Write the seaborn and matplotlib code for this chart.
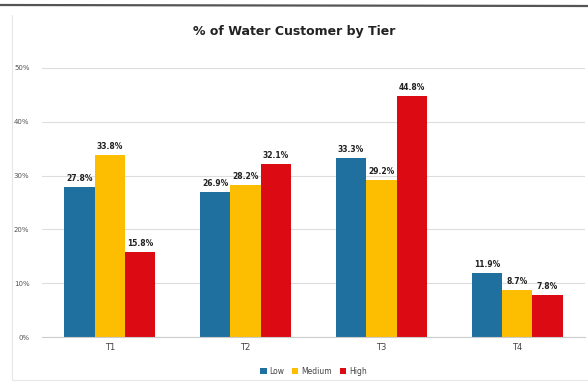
import matplotlib
matplotlib.use("Agg")
import matplotlib.pyplot as plt
from matplotlib.lines import Line2D
from matplotlib.ticker import PercentFormatter
import seaborn as sns
import pandas as pd

tiers = ["T1", "T2", "T3", "T4"]
levels = ["Low", "Medium", "High"]
low = [27.8, 26.9, 33.3, 11.9]
medium = [33.8, 28.2, 29.2, 8.7]
high = [15.8, 32.1, 44.8, 7.8]
colors = ["#1f6f9f", "#fdbd00", "#dc0a12"]

rows = []
for lvl, vals in zip(levels, [low, medium, high]):
    for t, v in zip(tiers, vals):
        rows.append({"Tier": t, "Level": lvl, "Pct": v})
df = pd.DataFrame(rows)

sns.set_theme(style="white")
plt.rcParams["font.family"] = ["DejaVu Sans"]

fig = plt.figure(figsize=(5.88, 3.83), dpi=100)
ax = fig.add_axes([42 / 588, 1 - 337 / 383, 543 / 588, (337 - 68) / 383])

sns.barplot(data=df, x="Tier", y="Pct", hue="Level", hue_order=levels,
            palette=colors, width=0.67, saturation=1, ax=ax, legend=True,
            linewidth=0, edgecolor="none")

for cont in ax.containers:
    ax.bar_label(cont, fmt="%.1f%%", fontsize=5.5, fontweight="bold",
                 color="#222222", padding=3)

ax.set_ylim(0, 50)
ax.set_xlim(-0.5, 3.5)
ax.set_yticks([0, 10, 20, 30, 40, 50])
ax.yaxis.set_major_formatter(PercentFormatter(decimals=0))
ax.tick_params(axis="y", labelsize=5, colors="#555555", length=0, pad=9)
ax.tick_params(axis="x", labelsize=6, colors="#444444", length=0, pad=4)
ax.grid(axis="y", color="#dddddd", linewidth=0.8)
ax.set_axisbelow(True)
for s in ["top", "right", "left"]:
    ax.spines[s].set_visible(False)
ax.spines["bottom"].set_color("#cccccc")
ax.spines["bottom"].set_linewidth(0.8)
ax.set_xlabel("")
ax.set_ylabel("")

ax.legend(loc="upper center", bbox_to_anchor=(0.5, -0.085), ncol=3,
          frameon=False, fontsize=5.5, handlelength=0.8, handleheight=0.8,
          columnspacing=1.0, handletextpad=0.4, labelcolor="#444444")

fig.text(0.5, 1 - 32 / 383, "% of Water Customer by Tier", ha="center",
         va="center", fontsize=9, fontweight="bold", color="#222222")

# page framing lines
fig.add_artist(Line2D([0, 1], [1 - 5 / 383, 1 - 6 / 383], color="#555555",
                      linewidth=1.6, transform=fig.transFigure))
fig.add_artist(Line2D([12 / 588, 12 / 588], [1 - 15 / 383, 1 - 380 / 383],
                      color="#e6e6e6", linewidth=0.8, transform=fig.transFigure))
fig.add_artist(Line2D([12 / 588, 1], [1 - 380 / 383, 1 - 380 / 383],
                      color="#e6e6e6", linewidth=0.8, transform=fig.transFigure))

fig.savefig("out.png", dpi=100)
